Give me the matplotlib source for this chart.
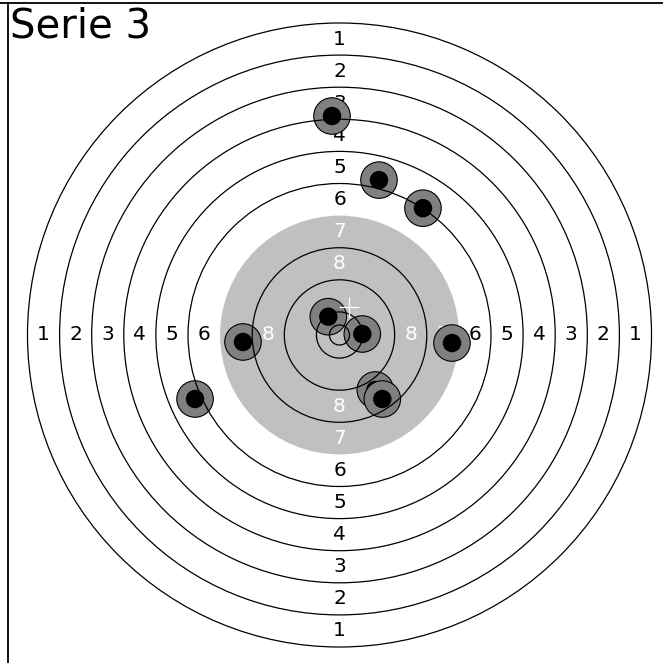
import matplotlib
matplotlib.use("Agg")
import matplotlib.pyplot as plt
from matplotlib.patches import Circle
from matplotlib.lines import Line2D

plt.rcParams['font.family'] = ['DejaVu Sans']

# ---- data (mm, target centre = 0,0) ----
title = "Serie 3"
ring_numbers = [1, 2, 3, 4, 5, 6, 7, 8, 9, 10]
ring10_radius = 5.75
ring_step = 8.0
inner_ten_radius = 2.5
black_from_ring = 7
label_rings = [1, 2, 3, 4, 5, 6, 7, 8]
shot_x = [-1.87, 9.84, 20.8, -24.05, 28.03, -36.0, -2.79, 5.68, 8.92, 10.67]
shot_y = [54.57, 38.6, 31.6, -1.74, -2.0, -15.95, 4.56, 0.25, -13.7, -15.95]
mean_x = 2.44
mean_y = 6.9

W = H = 663
DPI = 100
scale = 4.013          # px per mm
cx_px, cy_px = 339.5, 335.0

fig = plt.figure(figsize=(W / DPI, H / DPI), dpi=DPI)
ax = fig.add_axes([0, 0, 1, 1])
ax.set_xlim(-cx_px / scale, (W - cx_px) / scale)
ax.set_ylim(-(H - cy_px) / scale, cy_px / scale)
ax.set_aspect('equal')
ax.axis('off')

def ring_radius(n):
    return ring10_radius + (10 - n) * ring_step

# black (grey) aiming area
ax.add_patch(Circle((0, 0), ring_radius(black_from_ring), facecolor='#c0c0c0',
                    edgecolor='none', zorder=1))

# ring lines
for n in ring_numbers:
    if n == black_from_ring:
        continue
    ax.add_patch(Circle((0, 0), ring_radius(n), facecolor='none', edgecolor='black',
                        linewidth=0.9, zorder=10))
ax.add_patch(Circle((0, 0), inner_ten_radius, facecolor='none', edgecolor='black',
                    linewidth=0.9, zorder=10))

# ring labels
for n in label_rings:
    r = ring_radius(n) - ring_step / 2
    col = 'white' if n >= black_from_ring else 'black'
    for (dx, dy) in [(0, 1), (0, -1), (-1, 0), (1, 0)]:
        ax.text(dx * r, dy * r, str(n), ha='center', va='center', fontsize=14.5,
                color=col, zorder=2)

# shots (drawn in order, each one covering the previous)
for i, (x, y) in enumerate(zip(shot_x, shot_y)):
    z = 3 + i * 0.5
    ax.add_patch(Circle((x, y), 4.55, facecolor='#808080', edgecolor='black',
                        linewidth=0.8, zorder=z))
    ax.add_patch(Circle((x, y), 2.3, facecolor='black', edgecolor='none', zorder=z + 0.25))

# mean point of impact
ax.plot([mean_x], [mean_y], marker='+', markersize=14, markeredgewidth=0.9,
        color='white', linestyle='none', zorder=11)

# title
fig.text(10 / W, 1 - 37.5 / H, title, ha='left', va='baseline', fontsize=29, color='black')

# border lines (top & left)
fig.add_artist(Line2D([0, 1], [1 - 3.2 / H, 1 - 3.2 / H], color='black', linewidth=1.3,
                      transform=fig.transFigure))
fig.add_artist(Line2D([7.7 / W, 7.7 / W], [0, 1 - 3.2 / H], color='black', linewidth=1.3,
                      transform=fig.transFigure))

fig.savefig('out.png', dpi=DPI)
